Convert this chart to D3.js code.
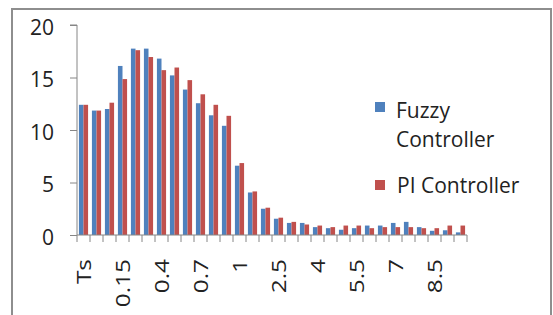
<!DOCTYPE html>
<html><head><meta charset="utf-8">
<script src="https://cdn.jsdelivr.net/npm/d3@7"></script>
<style>body{margin:0;background:#fff}svg{display:block}text{font-family:"Open Sans",sans-serif;fill:#222}</style>
</head><body><svg id="c" width="553" height="315"></svg>
<script>
const categories = ["Ts","0.05","0.1","0.15","0.2","0.3","0.4","0.5","0.6","0.7","0.8","0.9","1","1.5","2","2.5","3","3.5","4","4.5","5","5.5","6","6.5","7","7.5","8","8.5","9","9.5"];
const fuzzy = [12.4,11.85,12.0,16.1,17.75,17.75,16.8,15.2,13.85,12.55,11.4,10.4,6.6,4.05,2.5,1.55,1.15,1.15,0.75,0.65,0.5,0.65,0.9,0.9,1.15,1.25,0.75,0.4,0.45,0.25];
const pi    = [12.4,11.85,12.6,14.85,17.6,16.95,15.7,15.95,14.75,13.4,12.4,11.35,6.85,4.15,2.6,1.65,1.25,1.0,0.9,0.75,0.9,0.9,0.65,0.75,0.75,0.75,0.65,0.65,0.9,0.9];
const yTicks = [0,5,10,15,20];
const seriesNames = ["Fuzzy Controller","PI Controller"];
const colors = ["#4F81BD","#C0504D"];

const svg = d3.select("#c");
// outer chart border
svg.append("rect").attr("x",12).attr("y",9).attr("width",539).attr("height",330)
  .attr("fill","none").attr("stroke","#8e8e8e").attr("stroke-width",2);

const x0 = 77, x1 = 467, yB = 235, yT = 25;
const x = d3.scaleBand().domain(categories).range([x0,x1]).paddingInner(0).paddingOuter(0);
const xs = d3.scaleBand().domain([0,1]).range([0,x.bandwidth()]).paddingInner(0).paddingOuter(0.42);
const y = d3.scaleLinear().domain([0,20]).range([yB,yT]);

const data = categories.map((c,i)=>({c, v:[fuzzy[i],pi[i]]}));
const g = svg.append("g");
g.selectAll("g.cat").data(data).join("g").attr("class","cat")
  .attr("transform",d=>`translate(${x(d.c)},0)`)
  .selectAll("rect").data(d=>d.v.map((v,k)=>({v,k}))).join("rect")
  .attr("x",d=>xs(d.k)).attr("width",xs.bandwidth())
  .attr("y",d=>y(d.v)).attr("height",d=>yB-y(d.v))
  .attr("fill",d=>colors[d.k]);

// y axis
const ya = svg.append("g").attr("transform",`translate(${x0},0)`)
  .call(d3.axisLeft(y).tickValues(yTicks).tickSize(7).tickPadding(16).tickFormat(d3.format("d")));
ya.select(".domain").attr("stroke","#868686").attr("d",`M-7,${yT}H0V${yB}`);
ya.selectAll(".tick line").attr("stroke","#868686");
ya.selectAll(".tick text").attr("font-size",21).attr("font-family","Open Sans").attr("fill","#222").attr("dy","0.45em");

// x axis
const xa = svg.append("g").attr("transform",`translate(0,${yB})`)
  .call(d3.axisBottom(x).tickSize(0).tickFormat((d,i)=>i%3===0?d:""));
xa.select(".domain").attr("stroke","#868686").attr("d",`M${x0},0H${x1}`);
xa.selectAll(".tick line").remove();
// category boundary ticks
xa.selectAll("line.bt").data(d3.range(categories.length+1)).join("line").attr("class","bt")
  .attr("x1",i=>x0+i*x.bandwidth()).attr("x2",i=>x0+i*x.bandwidth())
  .attr("y1",0).attr("y2",7).attr("stroke","#868686");
xa.selectAll(".tick text").attr("font-size",20).attr("font-family","Open Sans").attr("fill","#222")
  .attr("text-anchor","end").attr("transform","translate(0,24) rotate(-90) scale(1.22,1)")
  .attr("x",0).attr("y",0).attr("dy","0.36em");

// legend
const leg = svg.append("g");
leg.append("rect").attr("x",375).attr("y",102).attr("width",10).attr("height",10).attr("fill",colors[0]);
leg.append("text").attr("x",396).attr("y",118).attr("font-size",21).text("Fuzzy");
leg.append("text").attr("x",396).attr("y",147).attr("font-size",21).text("Controller");
leg.append("rect").attr("x",375).attr("y",180).attr("width",10).attr("height",10).attr("fill",colors[1]);
leg.append("text").attr("x",397).attr("y",193).attr("font-size",21).text(seriesNames[1]);
</script></body></html>
